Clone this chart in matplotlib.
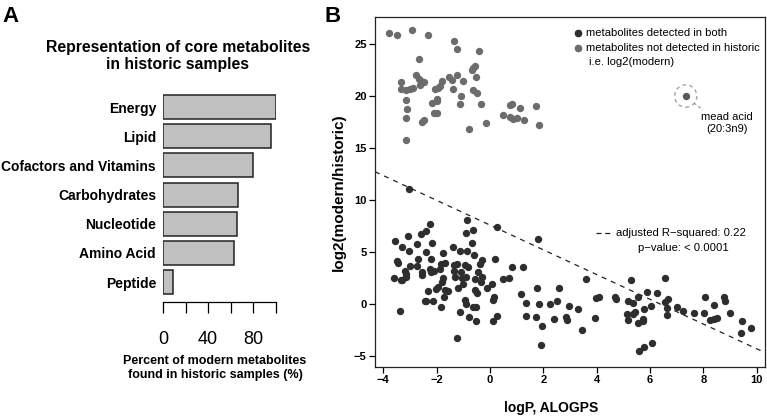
import matplotlib
matplotlib.use('Agg')
import matplotlib.pyplot as plt
from matplotlib.patches import Ellipse

plt.rcParams['font.family'] = ['Liberation Sans', 'DejaVu Sans']

# panel A data
categories = ['Energy', 'Lipid', 'Cofactors and Vitamins', 'Carbohydrates',
              'Nucleotide', 'Amino Acid', 'Peptide']
percent_found = [100, 96, 80, 66.5, 65.5, 63, 9]
pct_ticks = [0, 20, 40, 60, 80, 100]
pct_tick_labels = ['0', '', '40', '', '80', '']

# panel B data: detected in both (logP, log2 modern/historic)
both_logp = [-3.03, -2.25, -2.41, -2.59, -3.06, -3.56, -3.28, -2.73, -2.19, -3.03,
             -2.41, -0.85, -0.91, -0.62, -0.66, -1.75, -2.21, -1.38, -1.13, -0.85,
             -0.60, -0.31, -3.50, -3.44, -2.71, -3.00, -2.75, -3.19, -3.59, -3.34,
             -3.13, -2.56, -2.56, -2.25, -2.09, -2.21, -1.84, -1.69, -1.88, -1.34,
             -1.23, -1.34, -1.31, -1.09, -0.94, -0.81, -1.03, -0.88, -1.75, -1.81,
             -1.94, -2.04, -2.34, -1.69, -1.56, -1.19, -1.00, -1.71, -2.44, -2.38,
             -2.13, -1.85, -3.38, -0.94, -0.91, -1.13, -0.79, -0.63, -0.53, -0.53,
             -1.25, -0.56, -0.31, -0.50, -0.56, -0.38, -0.44, -0.34, -3.15, -3.31,
             0.28, 1.81, 0.19, 0.81, 1.23, 0.48, 0.73, -0.10, 0.09, 0.15,
             0.13, 1.15, 1.78, 2.59, 1.34, 1.85, 2.25, 2.50, 2.98, 3.29,
             0.25, 0.13, 1.35, 1.71, 1.94, 2.40, 2.84, 2.90, 3.46, 1.91,
             3.60, 3.94, 3.99, 4.09, 4.69, 4.71, 5.28, 5.16, 5.54, 5.88,
             6.28, 5.79, 6.03, 5.13, 5.19, 5.35, 5.44, 5.55, 5.72, 5.75,
             5.38, 5.60, 5.79, 6.09, 6.56, 6.56, 6.69, 6.63, 6.65, 7.00,
             7.22, 7.63, 8.06, 8.03, 8.23, 8.38, 8.38, 8.52, 8.79, 8.81,
             8.98, 9.40, 9.46, 9.78]
both_ratio = [11.10, 7.69, 7.05, 6.73, 6.57, 6.09, 5.45, 5.77, 5.90, 5.10,
              5.00, 8.11, 6.86, 7.12, 5.90, 4.87, 4.33, 5.45, 5.10, 5.13,
              4.68, 4.23, 4.17, 3.97, 4.33, 3.65, 3.65, 3.20, 2.53, 2.31,
              2.56, 3.11, 2.79, 3.33, 3.20, 3.11, 3.85, 3.91, 3.33, 3.75,
              3.81, 3.20, 2.56, 3.11, 3.75, 3.53, 2.47, 2.56, 2.47, 2.15,
              1.67, 1.41, 1.28, 1.35, 1.28, 1.50, 1.92, 0.64, 0.29, 0.29,
              0.32, -0.26, -0.64, 0.38, 0.00, -0.80, -1.22, -0.32, -0.32, -1.63,
              -3.24, 2.37, 2.56, 1.03, 1.35, 3.85, 3.11, 2.15, 2.88, 2.31,
              7.37, 6.25, 4.29, 3.53, 3.53, 2.37, 2.53, 1.57, 1.89, 0.64,
              0.38, 0.96, 1.57, 1.57, 0.06, -0.03, 0.00, 0.29, -0.19, -0.48,
              -1.12, -1.63, -1.12, -1.22, -2.08, -1.44, -1.28, -1.54, -2.50, -3.94,
              2.40, -1.31, 0.54, 0.70, 0.70, 0.45, 2.31, 0.29, 0.70, 1.19,
              1.03, -0.48, -0.19, -0.99, -1.54, -0.93, -0.80, -1.86, -1.65, -1.45,
              0.10, -4.52, -4.17, -3.78, 2.53, 0.22, 0.45, -0.42, -1.06, -0.26,
              -0.64, -0.90, 0.70, -0.83, -1.54, -0.10, -1.45, -1.30, 0.64, 0.32,
              -0.83, -2.82, -1.63, -2.34]

# not detected in historic: log2(modern)
modern_logp = [-3.78, -3.50, -2.93, -2.31, -1.35, -1.23, -0.40, -2.66, -2.78, -2.65,
               -2.59, -2.46, -2.63, -3.34, -3.34, -3.13, -3.00, -2.90, -3.13, -3.10,
               -3.13, -3.15, -2.53, -2.48, -2.18, -2.10, -1.98, -2.00, -1.98, -2.06,
               -1.94, -1.88, -1.78, -1.53, -1.44, -1.40, -1.23, -1.10, -1.13, -1.00,
               -0.79, -0.69, -0.63, -0.56, -0.53, -0.63, -0.48, -0.35, -0.16, 0.49,
               0.75, 0.84, 1.13, 0.75, 0.85, 1.03, 1.28, 1.71, 1.85]
modern_log2 = [26.05, 25.89, 26.37, 25.89, 25.32, 24.52, 24.36, 23.60, 22.04, 21.66,
               21.40, 21.34, 21.02, 21.37, 20.70, 20.57, 20.64, 20.73, 19.59, 18.73,
               17.87, 15.80, 17.52, 17.68, 19.30, 18.41, 18.41, 19.75, 19.52, 20.64,
               20.80, 20.96, 21.40, 21.85, 21.50, 20.64, 22.07, 20.00, 19.20, 21.40,
               16.82, 22.48, 22.71, 22.87, 21.85, 20.57, 20.25, 19.20, 17.45, 18.22,
               19.11, 19.24, 18.89, 18.03, 17.77, 17.87, 17.68, 19.04, 17.23]

mead_logp = 7.34
mead_log2 = 20.0
fit_intercept = 7.59
fit_slope = -1.19
logp_ticks = [-4, -2, 0, 2, 4, 6, 8, 10]
ratio_ticks = [-5, 0, 5, 10, 15, 20, 25]

W, H = 767, 416
fig = plt.figure(figsize=(W / 100, H / 100), dpi=100)

def fx(px):
    return px / W

def fy(py):
    return 1 - py / H

# ---------- panel A ----------
axA = fig.add_axes([fx(163), fy(295.2), fx(275.7 - 163), (295.2 - 93.9) / H])
pos = list(range(len(categories)))
axA.barh(pos, percent_found, height=0.82, color='#c0c0c0', edgecolor='#222222', linewidth=1.1)
axA.set_xlim(0, 100)
axA.set_ylim(6.45, -0.45)
axA.set_yticks(pos)
axA.set_yticklabels(categories, fontsize=10, fontweight='bold')
axA.tick_params(axis='y', length=0, pad=5)
for s in ['top', 'right', 'left']:
    axA.spines[s].set_visible(False)
axA.spines['bottom'].set_position(('outward', 5))
axA.spines['bottom'].set_bounds(0, 100)
axA.spines['bottom'].set_linewidth(0.9)
axA.set_xticks(pct_ticks)
axA.set_xticklabels(pct_tick_labels, fontsize=13)
axA.tick_params(axis='x', length=8, width=0.9, pad=13)

fig.text(fx(178), fy(56), 'Representation of core metabolites\nin historic samples',
         ha='center', va='center', fontsize=11.3, fontweight='bold', linespacing=1.1)
fig.text(fx(215), fy(368), 'Percent of modern metabolites\nfound in historic samples (%)',
         ha='center', va='center', fontsize=9, fontweight='bold', linespacing=1.15)
fig.text(fx(2), fy(16), 'A', ha='left', va='center', fontsize=16, fontweight='bold')
fig.text(fx(324), fy(16), 'B', ha='left', va='center', fontsize=16, fontweight='bold')

# ---------- panel B ----------
axB = fig.add_axes([fx(375), fy(367), fx(765 - 375), 350 / H])
axB.scatter(both_logp, both_ratio, s=28, color='#2e2e2e', linewidths=0, zorder=3)
axB.scatter(modern_logp, modern_log2, s=28, color='#6c6c6c', linewidths=0, zorder=3)
axB.scatter([mead_logp], [mead_log2], s=28, color='#5a5a5a', linewidths=0, zorder=3)
axB.axline((0, fit_intercept), slope=fit_slope, color='#222222', lw=0.9,
           linestyle=(0, (4, 4)), zorder=2)
axB.set_xlim(-4.31, 10.31)
axB.set_ylim(-6.06, 27.6)

# dashed ring around mead acid (about 11 px radius)
axB.add_patch(Ellipse((mead_logp, mead_log2), 0.83, 2.15, fill=False,
                      edgecolor='#a0a0a0', lw=1.0, linestyle=(0, (2.5, 2.5)), zorder=2))

axB.set_xticks(logp_ticks)
axB.set_yticks(ratio_ticks)
for lab in axB.get_xticklabels() + axB.get_yticklabels():
    lab.set_fontweight('bold')
    lab.set_fontsize(8)
axB.tick_params(axis='both', length=4, width=0.9, pad=2)
for s in axB.spines.values():
    s.set_linewidth(0.9)
    s.set_color('#222222')
axB.set_ylabel('log2(modern/historic)', fontsize=11, fontweight='bold', labelpad=6)
fig.text(fx(551), fy(408), 'logP, ALOGPS', fontsize=10, fontweight='bold',
         ha='center', va='center')

# legend
fig.lines.append(plt.Line2D([fx(578)], [fy(33)], marker='o', markersize=4.5,
                            color='#2e2e2e', linestyle='none', transform=fig.transFigure))
fig.lines.append(plt.Line2D([fx(578)], [fy(48)], marker='o', markersize=4.5,
                            color='#6c6c6c', linestyle='none', transform=fig.transFigure))
fig.text(fx(586), fy(33), 'metabolites detected in both', fontsize=8.1, va='center')
fig.text(fx(586), fy(48), 'metabolites not detected in historic', fontsize=8.1, va='center')
fig.text(fx(589), fy(62), 'i.e. log2(modern)', fontsize=8.1, va='center')

# mead acid label
fig.lines.append(plt.Line2D([fx(694), fx(703)], [fy(103), fy(110)], color='#a0a0a0',
                            lw=1.0, linestyle=(0, (2, 2)), transform=fig.transFigure))
fig.text(fx(727), fy(117), 'mead acid', fontsize=8, ha='center', va='center')
fig.text(fx(727), fy(129), '(20:3n9)', fontsize=8, ha='center', va='center')

# fit stats
fig.lines.append(plt.Line2D([fx(596), fx(613)], [fy(233), fy(233)], color='#222222',
                            lw=0.9, linestyle=(0, (4, 3)), transform=fig.transFigure))
fig.text(fx(681), fy(233), 'adjusted R\u2212squared: 0.22', fontsize=8.1, ha='center', va='center')
fig.text(fx(683), fy(248), 'p\u2212value: < 0.0001', fontsize=8.1, ha='center', va='center')

fig.savefig('out.png', dpi=100)
